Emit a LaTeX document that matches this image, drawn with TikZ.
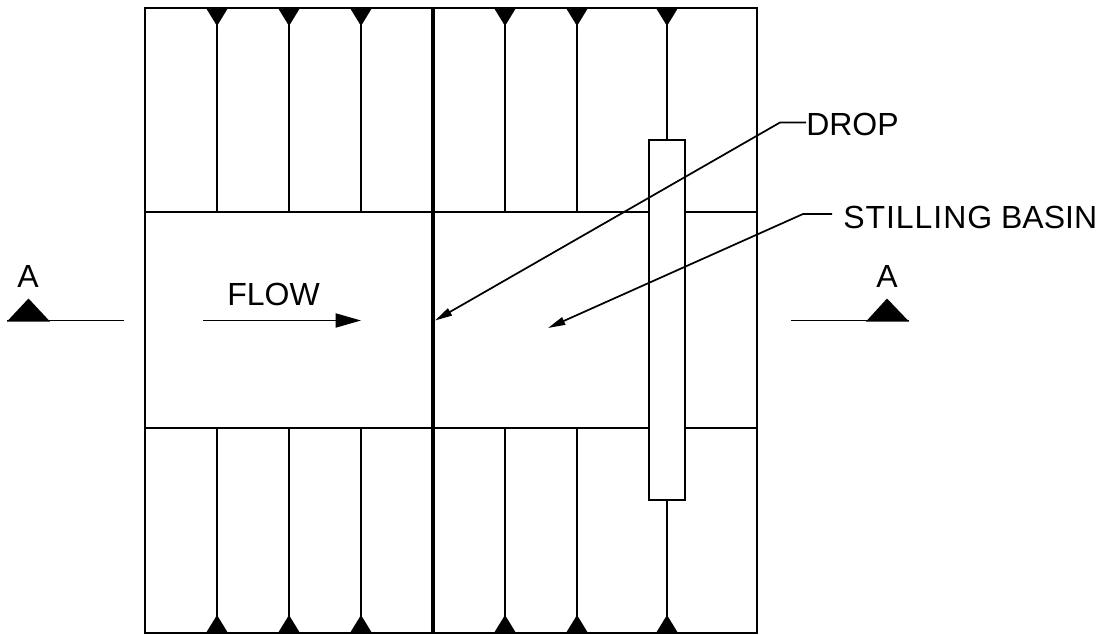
\documentclass[tikz,border=0pt]{standalone}
\usepackage{fontspec}
\setmainfont{Liberation Sans}
\newfontfamily\spaced[LetterSpace=3.0]{Liberation Sans}
\usetikzlibrary{arrows.meta}
\tikzset{
  px/.style={x=0.75pt,y=-0.75pt},
  ln/.style={line width=1.4pt,line cap=butt,black},
  heavy/.style={line width=3pt,black},
  tipfill/.style={fill=black,draw=none},
  lead/.style={line width=1.3pt,-{Triangle[length=13pt,width=6pt]}},
  lbl/.style={font=\fontsize{24}{24}\selectfont,inner sep=0pt,anchor=base west,text=black},
  lblc/.style={font=\fontsize{24}{24}\selectfont,inner sep=0pt,anchor=base,text=black},
}
\begin{document}
\begin{tikzpicture}[px]
\useasboundingbox (0,0) rectangle (1103,635);
% outer frame, bands
\draw[ln] (145,8) rectangle (757,633);
\draw[ln] (145,212) -- (757,212);
\draw[ln] (145,428) -- (757,428);
% dividers and triangular ends
\foreach \x in {217,289,361,505,577,667}{
  \draw[ln] (\x,8) -- (\x,212);
  \draw[ln] (\x,428) -- (\x,633);
  \fill[tipfill] (\x-11,8) -- (\x+11,8) -- (\x,26) -- cycle;
  \fill[tipfill] (\x-11,633) -- (\x+11,633) -- (\x,615) -- cycle;
}
\draw[heavy] (433,8) -- (433,633);
% cross structure
\draw[ln,fill=white] (649,140) rectangle (685,500);
% labels
\node[lbl] (drop) at (806,136) {DROP};
\node[lbl] (basin) at (843,228) {{\spaced STILLING} BASIN};
\node[lblc] (flow) at (273.5,305) {FLOW};
\node[lblc] (al) at (28,287) {A};
\node[lblc] (ar) at (887,287) {A};
% leaders
\coordinate (dk) at (780,122.5);
\coordinate (dt) at (435,320.5);
\coordinate (bk) at (803,214);
\coordinate (bs) at (832,214);
\coordinate (bt) at (548,328);
\draw[lead] (drop.west |- dk) -- (dk) -- (dt);
\draw[lead] (bs) -- (bk) -- (bt);
% flow arrow
\coordinate (fs) at (203,320.5);
\coordinate (fe) at (361,320.5);
\draw[line width=1.4pt,-{Triangle[length=19pt,width=10.5pt]}] (fs) -- (fe);
% section marks
\coordinate (as) at (124,320.5);
\coordinate (ae) at (7,320.5);
\draw[ln] (as) -- (ae);
\fill[tipfill] (7,321.5) -- (28.5,298.5) -- (50,321.5) -- cycle;
\coordinate (bs2) at (791,320.5);
\coordinate (be2) at (909,320.5);
\draw[ln] (bs2) -- (be2);
\fill[tipfill] (866,321.5) -- (887,298.5) -- (909,321.5) -- cycle;
\end{tikzpicture}
\end{document}
